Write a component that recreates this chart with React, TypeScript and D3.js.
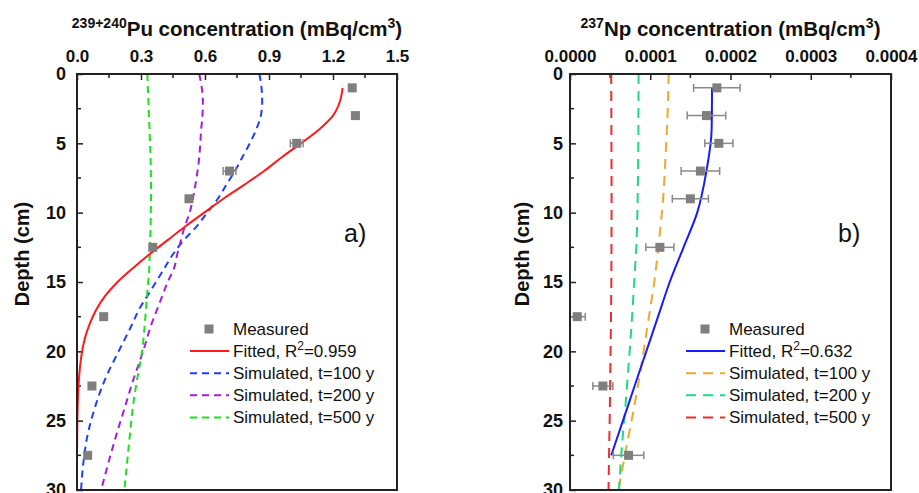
import React, { useEffect, useRef } from "react";
import * as d3 from "d3";

// measured depths (cm)
const depths = [1, 3, 5, 7, 9, 12.5, 17.5, 22.5, 27.5];

// 239+240Pu measured (mBq/cm3)
const puMeasured = [1.29, 1.305, 1.03, 0.715, 0.525, 0.355, 0.125, 0.07, 0.05];
const puError = [0.015, 0.015, 0.03, 0.03, 0.01, 0.01, 0.01, 0.01, 0.01];

// Pu fitted curve
const puFitDepth = [1, 2, 3, 4, 5, 6, 7, 8, 9, 10, 11, 12, 13, 14, 15, 16, 17, 18, 19, 20, 22, 24, 26, 27.5];
const puFitValue = [1.245, 1.232, 1.2, 1.135, 1.05, 0.96, 0.877, 0.783, 0.686, 0.596, 0.507, 0.423, 0.34, 0.262, 0.19, 0.132, 0.09, 0.06, 0.038, 0.024, 0.009, 0.003, 0.001, 0];

// Pu simulated
const puSimDepth = [0, 1, 2, 3, 4, 5, 6, 7, 8, 9, 10, 11, 12, 13, 14, 15, 16, 17, 18, 20, 22, 24, 26, 28, 30];
const puSim100 = [0.855, 0.865, 0.868, 0.862, 0.84, 0.81, 0.775, 0.74, 0.7, 0.66, 0.61, 0.56, 0.5, 0.45, 0.41, 0.37, 0.33, 0.29, 0.26, 0.195, 0.132, 0.085, 0.05, 0.03, 0.019];
const puSim200 = [0.573, 0.585, 0.59, 0.588, 0.582, 0.578, 0.573, 0.565, 0.555, 0.543, 0.528, 0.505, 0.487, 0.47, 0.455, 0.425, 0.4, 0.375, 0.35, 0.31, 0.265, 0.225, 0.185, 0.148, 0.113];
const puSim500 = [0.33, 0.332, 0.335, 0.337, 0.34, 0.342, 0.345, 0.346, 0.347, 0.347, 0.346, 0.345, 0.343, 0.341, 0.339, 0.334, 0.328, 0.323, 0.318, 0.305, 0.282, 0.262, 0.248, 0.235, 0.222];

// 237Np measured (mBq/cm3)
const npMeasured = [1.83e-4, 1.7e-4, 1.855e-4, 1.625e-4, 1.5e-4, 1.12e-4, 0.09e-4, 0.41e-4, 0.73e-4];
const npError = [0.29e-4, 0.24e-4, 0.175e-4, 0.24e-4, 0.225e-4, 0.175e-4, 0.1e-4, 0.125e-4, 0.19e-4];

// Np fitted curve
const npFitDepth = [1, 4, 7, 10, 12.5, 15, 17.5, 20, 22.5, 25, 27.5];
const npFitValue = [1.77e-4, 1.765e-4, 1.7e-4, 1.585e-4, 1.415e-4, 1.243e-4, 1.097e-4, 0.951e-4, 0.805e-4, 0.66e-4, 0.514e-4];

// Np simulated
const npSimDepth = [0, 3, 6, 9, 12, 15, 18, 21, 24, 27, 30];
const npSim100 = [1.23e-4, 1.215e-4, 1.19e-4, 1.16e-4, 1.11e-4, 1.05e-4, 0.97e-4, 0.89e-4, 0.8e-4, 0.7e-4, 0.604e-4];
const npSim200 = [0.855e-4, 0.853e-4, 0.85e-4, 0.843e-4, 0.83e-4, 0.8e-4, 0.768e-4, 0.73e-4, 0.69e-4, 0.645e-4, 0.61e-4];
const npSim500 = [0.513e-4, 0.515e-4, 0.517e-4, 0.518e-4, 0.517e-4, 0.515e-4, 0.51e-4, 0.503e-4, 0.497e-4, 0.488e-4, 0.48e-4];

const puTicks = [0, 0.3, 0.6, 0.9, 1.2, 1.5];
const npTicks = [0, 0.0001, 0.0002, 0.0003, 0.0004];
const depthTicks = [0, 5, 10, 15, 20, 25, 30];

const FONT = "'Liberation Sans', Arial, sans-serif";

const zip = (a, b) => a.map((d, i) => [d, b[i]]);

function drawPanel(svg, cfg) {
  const { left, right, top, bottom } = cfg;
  const x = d3.scaleLinear().domain(cfg.xDomain).range([left, right]);
  const y = d3.scaleLinear().domain([0, 30]).range([top, bottom]);
  const g = svg.append("g");

  // title
  const title = g
    .append("text")
    .attr("x", (left + right) / 2)
    .attr("y", 36)
    .attr("text-anchor", "middle")
    .style("font-family", FONT)
    .style("font-weight", "bold")
    .style("font-size", "20.5px")
    .attr("fill", "#111");
  title.append("tspan").attr("font-size", "14px").attr("dy", "-8").text(cfg.isotope);
  title.append("tspan").attr("dy", "8").text(cfg.element + " concentration (mBq/cm");
  title.append("tspan").attr("font-size", "14px").attr("dy", "-8").text("3");
  title.append("tspan").attr("dy", "8").text(")");

  // top axis
  const minorX = cfg.xTicks.slice(0, -1).map((t, i) => (t + cfg.xTicks[i + 1]) / 2);
  const topAxis = g
    .append("g")
    .attr("transform", `translate(0,${top})`)
    .call(d3.axisTop(x).tickValues(cfg.xTicks).tickFormat(cfg.xFormat).tickSize(-6).tickPadding(12));
  topAxis.select(".domain").remove();
  topAxis.selectAll("line").attr("stroke", "#222").attr("stroke-width", 1.5);
  topAxis
    .selectAll("text")
    .style("font-family", FONT)
    .style("font-weight", "bold")
    .style("font-size", "17px")
    .attr("fill", "#111");
  g.append("g")
    .selectAll("line")
    .data(minorX)
    .join("line")
    .attr("x1", (d) => x(d))
    .attr("x2", (d) => x(d))
    .attr("y1", top)
    .attr("y2", top + 4)
    .attr("stroke", "#222")
    .attr("stroke-width", 1.5);

  // left axis
  const leftAxis = g
    .append("g")
    .attr("transform", `translate(${left},0)`)
    .call(d3.axisLeft(y).tickValues(depthTicks).tickSize(-6).tickPadding(cfg.yPad));
  leftAxis.select(".domain").remove();
  leftAxis.selectAll("line").attr("stroke", "#222").attr("stroke-width", 1.5);
  leftAxis
    .selectAll("text")
    .style("font-family", FONT)
    .style("font-weight", "bold")
    .style("font-size", "18px")
    .attr("fill", "#111");
  g.append("g")
    .selectAll("line")
    .data(depthTicks.slice(0, -1).map((d) => d + 2.5))
    .join("line")
    .attr("x1", left)
    .attr("x2", left + 4)
    .attr("y1", (d) => y(d))
    .attr("y2", (d) => y(d))
    .attr("stroke", "#222")
    .attr("stroke-width", 1.5);

  // y label
  g.append("text")
    .attr("transform", `translate(${cfg.yLabelX},254) rotate(-90)`)
    .attr("text-anchor", "middle")
    .attr("dy", "0.35em")
    .style("font-family", FONT)
    .style("font-weight", "bold")
    .style("font-size", "20px")
    .attr("fill", "#111")
    .text("Depth (cm)");

  // lines
  const line = d3
    .line()
    .x((d) => x(d[1]))
    .y((d) => y(d[0]))
    .curve(d3.curveMonotoneY);

  const plot = g.append("g");
  cfg.sims.forEach((s) => {
    plot
      .append("path")
      .datum(zip(s.depth, s.value))
      .attr("d", line)
      .attr("fill", "none")
      .attr("stroke", s.color)
      .attr("stroke-width", 2)
      .attr("stroke-dasharray", cfg.dash);
  });
  plot
    .append("path")
    .datum(zip(cfg.fit.depth, cfg.fit.value))
    .attr("d", line)
    .attr("fill", "none")
    .attr("stroke", cfg.fit.color)
    .attr("stroke-width", 2);

  // measured with error bars
  const pts = depths.map((d, i) => ({ d, v: cfg.measured[i], e: cfg.error[i] }));
  const eb = plot.append("g").attr("stroke", "#8a8a8a").attr("stroke-width", 1.5);
  pts.forEach((p) => {
    const x0 = x(Math.max(0, p.v - p.e));
    const x1 = x(p.v + p.e);
    const yy = y(p.d);
    eb.append("line").attr("x1", x0).attr("x2", x1).attr("y1", yy).attr("y2", yy);
    eb.append("line").attr("x1", x0).attr("x2", x0).attr("y1", yy - 4).attr("y2", yy + 4);
    eb.append("line").attr("x1", x1).attr("x2", x1).attr("y1", yy - 4).attr("y2", yy + 4);
  });
  plot
    .append("g")
    .selectAll("rect")
    .data(pts)
    .join("rect")
    .attr("x", (p) => x(p.v) - 4.5)
    .attr("y", (p) => y(p.d) - 4.5)
    .attr("width", 9)
    .attr("height", 9)
    .attr("fill", "#7f7f7f");

  // frame
  g.append("rect")
    .attr("x", left)
    .attr("y", top)
    .attr("width", right - left)
    .attr("height", bottom - top)
    .attr("fill", "none")
    .attr("stroke", "#222")
    .attr("stroke-width", 2);

  // panel letter
  g.append("text")
    .attr("x", cfg.letterX)
    .attr("y", 242)
    .style("font-family", FONT)
    .style("font-size", "25px")
    .attr("fill", "#111")
    .text(cfg.letter);

  // legend
  const lg = g.append("g").style("font-family", FONT).style("font-size", "17px");
  const rowY = (i) => 329 + i * 22.1;
  const lx = cfg.legendX;
  lg.append("rect")
    .attr("x", lx + 19 - 4.5)
    .attr("y", rowY(0) - 4.5)
    .attr("width", 9)
    .attr("height", 9)
    .attr("fill", "#7f7f7f");
  lg.append("text").attr("x", lx + 43).attr("y", rowY(0)).attr("dy", "0.35em").attr("fill", "#111").text("Measured");

  lg.append("line")
    .attr("x1", lx)
    .attr("x2", lx + 39)
    .attr("y1", rowY(1))
    .attr("y2", rowY(1))
    .attr("stroke", cfg.fit.color)
    .attr("stroke-width", 2);
  const ft = lg.append("text").attr("x", lx + 43).attr("y", rowY(1)).attr("dy", "0.35em").attr("fill", "#111");
  ft.append("tspan").text("Fitted, R");
  ft.append("tspan").attr("font-size", "12px").attr("dy", "-7").text("2");
  ft.append("tspan").attr("dy", "7").text("=" + cfg.fit.r2);

  cfg.sims.forEach((s, i) => {
    lg.append("line")
      .attr("x1", lx)
      .attr("x2", lx + 39)
      .attr("y1", rowY(i + 2))
      .attr("y2", rowY(i + 2))
      .attr("stroke", s.color)
      .attr("stroke-width", 2)
      .attr("stroke-dasharray", cfg.dash);
    lg.append("text")
      .attr("x", lx + 43)
      .attr("y", rowY(i + 2))
      .attr("dy", "0.35em")
      .attr("fill", "#111")
      .text(s.label);
  });
}

export default function App() {
  const svgRef = useRef(null);

  useEffect(() => {
    const svg = d3.select(svgRef.current);
    svg.selectAll("*").remove();

    drawPanel(svg, {
      left: 77,
      right: 397,
      top: 74,
      bottom: 490,
      xDomain: [0, 1.5],
      xTicks: puTicks,
      xFormat: d3.format(".1f"),
      isotope: "239+240",
      element: "Pu",
      yPad: 11,
      yLabelX: 22,
      measured: puMeasured,
      error: puError,
      fit: { depth: puFitDepth, value: puFitValue, color: "#ff1a1a", r2: "0.959" },
      sims: [
        { depth: puSimDepth, value: puSim100, color: "#1f3fff", label: "Simulated, t=100 y" },
        { depth: puSimDepth, value: puSim200, color: "#a21ee0", label: "Simulated, t=200 y" },
        { depth: puSimDepth, value: puSim500, color: "#1ee01e", label: "Simulated, t=500 y" },
      ],
      dash: "7,5",
      letter: "a)",
      letterX: 344,
      legendX: 190,
    });

    drawPanel(svg, {
      left: 570,
      right: 891,
      top: 74,
      bottom: 490,
      xDomain: [0, 0.0004],
      xTicks: npTicks,
      xFormat: d3.format(".4f"),
      isotope: "237",
      element: "Np",
      yPad: 7,
      yLabelX: 522,
      measured: npMeasured,
      error: npError,
      fit: { depth: npFitDepth, value: npFitValue, color: "#1a1aff", r2: "0.632" },
      sims: [
        { depth: npSimDepth, value: npSim100, color: "#f0a92a", label: "Simulated, t=100 y" },
        { depth: npSimDepth, value: npSim200, color: "#1ed98a", label: "Simulated, t=200 y" },
        { depth: npSimDepth, value: npSim500, color: "#f22b2b", label: "Simulated, t=500 y" },
      ],
      dash: "10,7",
      letter: "b)",
      letterX: 838,
      legendX: 686,
    });
  }, []);

  return (
    <svg
      ref={svgRef}
      width={919}
      height={493}
      style={{ position: "absolute", left: 0, top: 0, background: "#fff" }}
    />
  );
}
